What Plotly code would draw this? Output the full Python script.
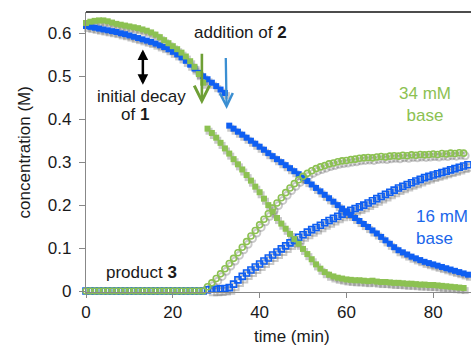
import plotly.graph_objects as go

# ---------------- data ----------------
# reactant 1, 34 mM base (green, filled squares)
t_g_before = list(range(0, 28))
g_react_before = [0.624, 0.627, 0.629, 0.630, 0.630, 0.628, 0.625, 0.622, 0.620, 0.618,
                  0.616, 0.614, 0.612, 0.609, 0.606, 0.602, 0.597, 0.591, 0.584, 0.577,
                  0.570, 0.563, 0.555, 0.546, 0.535, 0.522, 0.505, 0.485]
t_g_after = list(range(28, 88))
g_react_after = [0.378, 0.368, 0.357, 0.345, 0.332, 0.320, 0.307, 0.295, 0.283, 0.270,
                 0.257, 0.243, 0.230, 0.215, 0.200, 0.185, 0.170, 0.157, 0.145, 0.133,
                 0.121, 0.110, 0.098, 0.086, 0.074, 0.062, 0.052, 0.044, 0.038, 0.034,
                 0.031, 0.029, 0.027, 0.026, 0.025, 0.025, 0.024, 0.023, 0.024, 0.022,
                 0.021, 0.021, 0.020, 0.019, 0.019, 0.018, 0.017, 0.017, 0.016, 0.015,
                 0.015, 0.014, 0.014, 0.013, 0.012, 0.011, 0.010, 0.009, 0.008, 0.007]

# reactant 1, 16 mM base (blue, filled squares)
t_b_before = list(range(0, 33))
b_react_before = [0.617, 0.615, 0.613, 0.611, 0.609, 0.607, 0.605, 0.603, 0.600, 0.598,
                  0.595, 0.592, 0.589, 0.586, 0.583, 0.580, 0.576, 0.572, 0.568, 0.563,
                  0.557, 0.551, 0.544, 0.536, 0.527, 0.518, 0.508, 0.500, 0.493, 0.485,
                  0.477, 0.469, 0.461]
t_b_after = list(range(33, 90))
b_react_after = [0.385, 0.378, 0.371, 0.364, 0.357, 0.350, 0.343, 0.336, 0.329, 0.321,
                 0.314, 0.307, 0.300, 0.293, 0.286, 0.279, 0.272, 0.264, 0.256, 0.248,
                 0.240, 0.232, 0.224, 0.216, 0.208, 0.200, 0.192, 0.184, 0.177, 0.170,
                 0.163, 0.156, 0.149, 0.141, 0.134, 0.126, 0.118, 0.110, 0.102, 0.095,
                 0.090, 0.085, 0.080, 0.076, 0.072, 0.068, 0.065, 0.062, 0.059, 0.056,
                 0.053, 0.050, 0.047, 0.044, 0.041, 0.038, 0.035]

# product 3, 34 mM base (green, open circles)
t_g_prod = list(range(0, 88))
g_prod = [0.0] * 28 + [
    0.010, 0.019, 0.029, 0.040, 0.052, 0.064, 0.076, 0.089, 0.102, 0.115,
    0.128, 0.141, 0.154, 0.167, 0.180, 0.193, 0.205, 0.217, 0.229, 0.240,
    0.250, 0.259, 0.267, 0.274, 0.280, 0.285, 0.289, 0.292, 0.296, 0.298,
    0.301, 0.303, 0.304, 0.306, 0.307, 0.309, 0.310, 0.311, 0.310, 0.312,
    0.313, 0.312, 0.314, 0.315, 0.314, 0.316, 0.315, 0.317, 0.316, 0.318,
    0.317, 0.318, 0.319, 0.318, 0.320, 0.319, 0.321, 0.320, 0.322, 0.321]

# product 3, 16 mM base (blue, open squares)
t_b_prod = list(range(0, 90))
b_prod = [0.0] * 28 + [
    0.003, 0.004, 0.004, 0.005, 0.006,
    0.008, 0.016, 0.026, 0.034, 0.042, 0.049, 0.056, 0.063, 0.070, 0.077,
    0.084, 0.091, 0.098, 0.105, 0.112, 0.118, 0.125, 0.131, 0.137, 0.143,
    0.148, 0.153, 0.159, 0.164, 0.169, 0.174, 0.179, 0.184, 0.188, 0.192,
    0.196, 0.200, 0.205, 0.210, 0.215, 0.220, 0.225, 0.230, 0.235, 0.240,
    0.244, 0.248, 0.252, 0.256, 0.260, 0.264, 0.267, 0.270, 0.273, 0.276,
    0.279, 0.282, 0.285, 0.288, 0.291, 0.294, 0.297]

x_ticks = [0, 20, 40, 60, 80]
y_ticks = [0, 0.1, 0.2, 0.3, 0.4, 0.5, 0.6]
y_tick_text = ["0", "0.1", "0.2", "0.3", "0.4", "0.5", "0.6"]

# ---------------- style ----------------
GREEN = "#8cc152"
BLUE = "#0f5ff2"
GREEN_ARROW = "#6e9f35"
BLUE_ARROW = "#3b8fd2"
SHADOW = "rgba(60,60,60,0.28)"
FONT = "Liberation Sans, Arial, Helvetica, sans-serif"

fig = go.Figure()


def add_series(x, y, color, symbol, filled):
    if filled:
        marker = dict(symbol=symbol, size=6, color=color, line=dict(width=0))
    else:
        marker = dict(symbol=symbol + "-open", size=6, color=color,
                      line=dict(width=1.6, color=color))
    fig.add_trace(go.Scatter(x=x, y=y, mode="markers", marker=marker,
                             showlegend=False, hoverinfo="skip", cliponaxis=False))


def add_shadow(x, y, symbol, filled):
    xs = [v + 0.35 for v in x]
    ys = [v - 0.006 for v in y]
    if filled:
        marker = dict(symbol=symbol, size=7, color=SHADOW, line=dict(width=0))
    else:
        marker = dict(symbol=symbol + "-open", size=7, color=SHADOW,
                      line=dict(width=2, color=SHADOW))
    fig.add_trace(go.Scatter(x=xs, y=ys, mode="markers", marker=marker,
                             showlegend=False, hoverinfo="skip", cliponaxis=False))


series = [
    (t_b_before, b_react_before, BLUE, "square", True),
    (t_b_after, b_react_after, BLUE, "square", True),
    (t_b_prod, b_prod, BLUE, "square", False),
    (t_g_before, g_react_before, GREEN, "square", True),
    (t_g_after, g_react_after, GREEN, "square", True),
    (t_g_prod, g_prod, GREEN, "circle", False),
]
for x, y, c, s, f in series:
    add_shadow(x, y, s, f)
for x, y, c, s, f in series:
    add_series(x, y, c, s, f)

ann_font = dict(family=FONT, size=17, color="#1a1a1a")
annotations = [
    dict(x=35.7, y=0.603, text="addition of <b>2</b>", showarrow=False, font=ann_font,
         xanchor="center", yanchor="middle"),
    dict(x=12.7, y=0.454, text="initial decay", showarrow=False, font=ann_font,
         xanchor="center", yanchor="middle"),
    dict(x=11.3, y=0.410, text="of <b>1</b>", showarrow=False, font=ann_font,
         xanchor="center", yanchor="middle"),
    dict(x=12.7, y=0.042, text="product <b>3</b>", showarrow=False, font=ann_font,
         xanchor="center", yanchor="middle"),
    dict(x=78.1, y=0.435, text="34 mM<br>base", showarrow=False,
         font=dict(family=FONT, size=17, color=GREEN), xanchor="center", yanchor="middle"),
    dict(x=1.0, y=0.147, xref="paper", text="16 mM<br>base", showarrow=False, align="left",
         font=dict(family=FONT, size=17, color="#1a66ea"), xanchor="right", yanchor="middle",
         xshift=-1),
    # double-headed black arrow
    dict(x=13.1, y=0.480, ax=13.1, ay=0.566, xref="x", yref="y", axref="x", ayref="y",
         text="", showarrow=True, arrowhead=2, startarrowhead=2, arrowside="end+start",
         arrowsize=0.85, startarrowsize=0.85, arrowwidth=2.5, arrowcolor="#000000",
         standoff=0, startstandoff=0),
    # green addition arrow
    dict(x=26.7, y=0.435, ax=26.7, ay=0.556, xref="x", yref="y", axref="x", ayref="y",
         text="", showarrow=True, arrowhead=5, arrowsize=1.15, arrowwidth=2.6,
         arrowcolor=GREEN_ARROW, standoff=0),
    # blue addition arrow
    dict(x=32.4, y=0.424, ax=32.2, ay=0.546, xref="x", yref="y", axref="x", ayref="y",
         text="", showarrow=True, arrowhead=5, arrowsize=1.1, arrowwidth=2.3,
         arrowcolor=BLUE_ARROW, standoff=0),
    # axis titles
    dict(x=47.4, y=-0.16, xref="x", yref="paper", text="time (min)", showarrow=False,
         font=dict(family=FONT, size=17, color="#1a1a1a"), xanchor="center", yanchor="middle"),
    dict(x=-0.16, y=0.5, xref="paper", yref="paper", text="concentration (M)", showarrow=False,
         textangle=-90, font=dict(family=FONT, size=17, color="#1a1a1a"),
         xanchor="center", yanchor="middle"),
]

fig.update_layout(
    width=471, height=346,
    margin=dict(l=86, r=0, t=12, b=54),
    paper_bgcolor="white", plot_bgcolor="white",
    showlegend=False,
    annotations=annotations,
    shapes=[dict(type="line", xref="paper", yref="paper", x0=0, x1=1, y0=1, y1=1,
                 line=dict(color="#111111", width=1.6))],
    xaxis=dict(range=[0, 88.7], tickvals=x_ticks, ticktext=[str(v) for v in x_ticks],
               ticks="outside", ticklen=5, tickwidth=1, tickcolor="#888888",
               showline=True, linecolor="#888888", linewidth=1, showgrid=False,
               zeroline=False, tickfont=dict(family=FONT, size=17, color="#1a1a1a")),
    yaxis=dict(range=[-0.0023, 0.6496], tickvals=y_ticks, ticktext=y_tick_text,
               ticks="outside", ticklen=6, tickwidth=1, tickcolor="#888888",
               showline=True, linecolor="#888888", linewidth=1.3, showgrid=False,
               zeroline=False, ticklabelstandoff=4,
               tickfont=dict(family=FONT, size=17, color="#1a1a1a")),
)

fig.write_html("out.html", config={"displayModeBar": False},
               post_script="document.body.style.margin='0';document.body.style.overflow='hidden';")
